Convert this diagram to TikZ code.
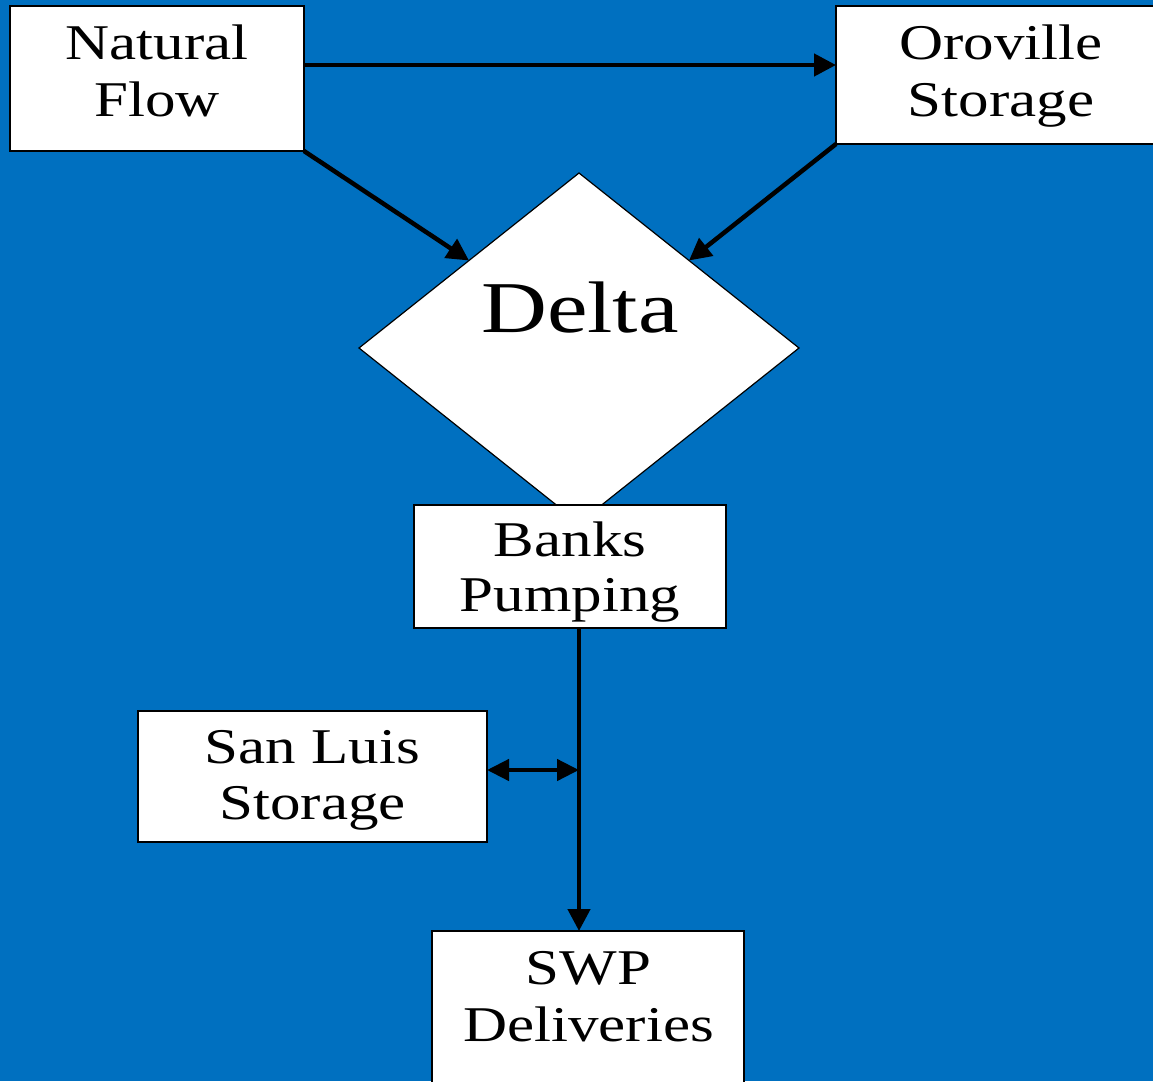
\documentclass[tikz,border=0pt]{standalone}
\usepackage{fontspec}
\setmainfont{Liberation Serif}[FakeStretch=1.22]
\newfontfamily\deltafont{Liberation Serif}[FakeStretch=1.25]
\usetikzlibrary{shapes.geometric,arrows.meta}
\definecolor{bgblue}{RGB}{0,112,192}
\tikzset{
  box/.style={draw=black, line width=2pt, fill=white, rectangle, inner sep=0pt, outer sep=0pt},
  lbl/.style={inner sep=0pt, outer sep=0pt, align=center, font=\fontsize{50}{57}\selectfont, text=black},
  arr/.style={line width=4.5pt, -{Triangle[length=22pt,width=22pt]}},
  darr/.style={line width=4.5pt, {Triangle[length=22pt,width=21pt]}-{Triangle[length=22pt,width=21pt]}},
}
\begin{document}
\begin{tikzpicture}[x=1pt,y=-1pt]
\useasboundingbox (0,0) rectangle (1153,1081);
\clip (0,0) rectangle (1153,1081);
\fill[bgblue] (0,0) rectangle (1153,1081);

% boxes
\node[box, minimum width=294pt, minimum height=145pt] (nat) at (157,78.5) {};
\node[box, minimum width=334pt, minimum height=138pt] (oro) at (1003,75) {};
\node[diamond, draw=black, line width=1.2pt, fill=white, inner sep=0pt, outer sep=0pt,
      minimum width=440pt, minimum height=350pt] (del) at (579,348) {};
\node[box, minimum width=312pt, minimum height=123pt] (banks) at (570,566.5) {};
\node[box, minimum width=349pt, minimum height=131pt] (sl) at (312.5,776.5) {};
\node[box, minimum width=312pt, minimum height=169pt] (swp) at (588,1015.5) {};

% texts
\node[lbl, anchor=north] (natT) at (157,25) {Natural\\Flow};
\node[lbl, anchor=north] (oroT) at (1001,25) {Oroville\\Storage};
\node[inner sep=0pt, outer sep=0pt, anchor=base, font=\deltafont\fontsize{73}{80}\selectfont] (delT) at (580,332) {Delta};
\node[lbl, anchor=north, font=\fontsize{50}{55}\selectfont] (banksT) at (570,522) {Banks\\Pumping};
\node[lbl, anchor=north, font=\fontsize{50}{56}\selectfont] (slT) at (312.5,730) {San Luis\\Storage};
\node[lbl, anchor=north] (swpT) at (588.5,951) {SWP\\Deliveries};

% connectors
\coordinate (topline) at (0,65);
\coordinate (jn) at (579,770);
\draw[arr] (nat.east |- topline) -- (oro.west |- topline);
\draw[arr] (nat.south east) -- (del.north west);
\draw[arr] (oro.south west) -- (del.north east);
\draw[arr] (banks.south -| del.south) -- (swp.north -| del.south);
\draw[darr] (sl.east |- jn) -- (jn);
\end{tikzpicture}
\end{document}
